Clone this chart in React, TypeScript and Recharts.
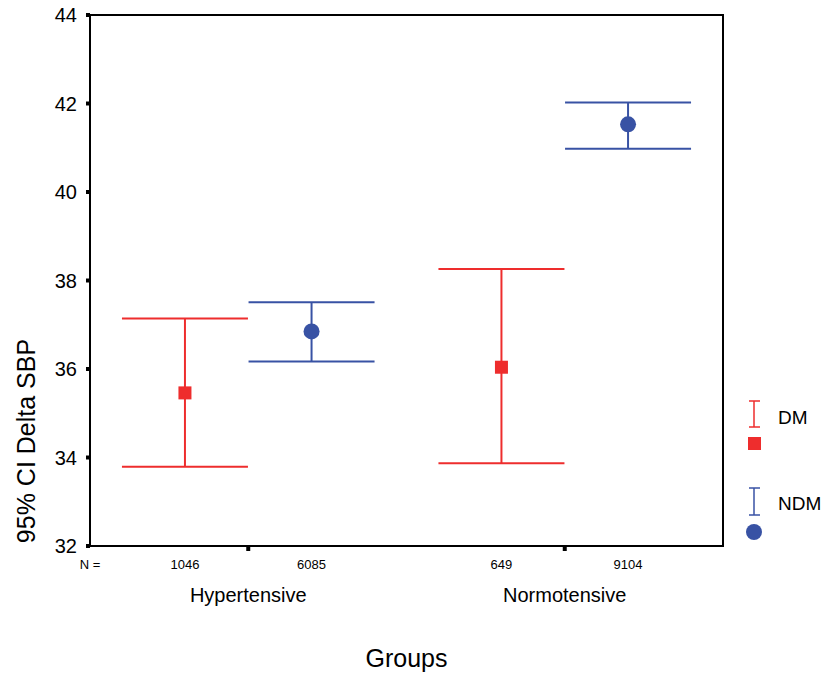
import React from "react";
import {
  ComposedChart,
  Scatter,
  ErrorBar,
  XAxis,
  YAxis,
  ReferenceArea,
  Customized,
} from "recharts";

// group positions on a 0..10 x scale, two series per group
const groups = ["Hypertensive", "Normotensive"];
const groupX = [2.5, 7.5];
const dmX = [1.5, 6.5];
const ndmX = [3.5, 8.5];

const dmN = ["1046", "649"];
const ndmN = ["6085", "9104"];

const dmMean = [35.46, 36.04];
const dmLow = [33.79, 33.87];
const dmHigh = [37.14, 38.26];

const ndmMean = [36.85, 41.53];
const ndmLow = [36.17, 40.98];
const ndmHigh = [37.51, 42.02];

const yTicks = [32, 34, 36, 38, 40, 42, 44];

const RED = "#ee2d2d";
const BLUE = "#3852a4";
const FONT = "'Liberation Sans', Arial, sans-serif";

const dmData = dmX.map((x, i) => ({
  x,
  y: dmMean[i],
  err: [dmMean[i] - dmLow[i], dmHigh[i] - dmMean[i]],
}));
const ndmData = ndmX.map((x, i) => ({
  x,
  y: ndmMean[i],
  err: [ndmMean[i] - ndmLow[i], ndmHigh[i] - ndmMean[i]],
}));

const nTicks = [0, ...dmX, ...ndmX].sort((a, b) => a - b);
const nLabel = (v: number) => {
  if (v === 0) return "N =";
  const di = dmX.indexOf(v);
  if (di >= 0) return dmN[di];
  const ni = ndmX.indexOf(v);
  return ni >= 0 ? ndmN[ni] : "";
};
const groupLabel = (v: number) => groups[groupX.indexOf(v)] ?? "";

const Square = (p: any) => (
  <rect x={p.cx - 6.5} y={p.cy - 6.5} width={13} height={13} fill={RED} />
);
const Dot = (p: any) => <circle cx={p.cx} cy={p.cy} r={8} fill={BLUE} />;
const Nothing = () => <g />;

const Overlay = () => (
  <g fontFamily={FONT}>
    <text
      x={26}
      y={441}
      transform="rotate(-90, 26, 441)"
      textAnchor="middle"
      dominantBaseline="central"
      fontSize={25}
      fill="#000"
    >
      95% CI Delta SBP
    </text>
    {/* legend */}
    <g stroke={RED} strokeWidth={1.5}>
      <line x1={754} y1={401} x2={754} y2={427} />
      <line x1={749} y1={401} x2={760} y2={401} />
      <line x1={749} y1={427} x2={760} y2={427} />
    </g>
    <rect x={748} y={437} width={13} height={13} fill={RED} />
    <text x={778} y={424} fontSize={19} fill="#000">DM</text>
    <g stroke={BLUE} strokeWidth={1.5}>
      <line x1={754} y1={488} x2={754} y2={515} />
      <line x1={749} y1={488} x2={760} y2={488} />
      <line x1={749} y1={515} x2={760} y2={515} />
    </g>
    <circle cx={754} cy={532} r={8} fill={BLUE} />
    <text x={778} y={510} fontSize={19} fill="#000">NDM</text>
  </g>
);

export default function App() {
  return (
    <div style={{ position: "absolute", left: 0, top: 0, fontFamily: FONT, background: "#fff" }}>
      <ComposedChart
        width={824}
        height={677}
        margin={{ top: 15, right: 101, bottom: 0, left: 30 }}
      >
        <XAxis
          xAxisId="a_main"
          type="number"
          dataKey="x"
          domain={[0, 10]}
          ticks={groupX}
          tickFormatter={() => ""}
          height={8}
          tickSize={5}
          axisLine={{ stroke: "#000", strokeWidth: 2 }}
          tickLine={{ stroke: "#000", strokeWidth: 4 }}
        />
        <XAxis
          xAxisId="b_n"
          type="number"
          dataKey="x"
          domain={[0, 10]}
          ticks={nTicks}
          tickFormatter={nLabel}
          interval={0}
          height={22}
          tickSize={0}
          tickMargin={6}
          axisLine={false}
          tickLine={false}
          fontSize={13}
          tick={{ fill: "#000", fontSize: 13 }}
        />
        <XAxis
          xAxisId="c_grp"
          type="number"
          dataKey="x"
          domain={[0, 10]}
          ticks={groupX}
          tickFormatter={groupLabel}
          interval={0}
          height={101}
          tickSize={0}
          tickMargin={12}
          axisLine={false}
          tickLine={false}
          fontSize={20}
          tick={{ fill: "#000", fontSize: 20 }}
          label={{ value: "Groups", position: "insideBottom", offset: 10, fill: "#000", fontSize: 25 }}
        />
        <YAxis
          type="number"
          domain={[32, 44]}
          ticks={yTicks}
          interval={0}
          width={60}
          tickSize={4}
          tickMargin={9}
          axisLine={{ stroke: "#000", strokeWidth: 2 }}
          tickLine={{ stroke: "#000", strokeWidth: 4 }}
          fontSize={20}
          tick={{ fill: "#000", fontSize: 20 }}
        />
        <ReferenceArea
          xAxisId="a_main"
          x1={0}
          x2={10}
          y1={32}
          y2={44}
          fill="none"
          stroke="#000"
          strokeWidth={2}
        />
        {/* invisible series so the label axes share the same scale */}
        <Scatter xAxisId="b_n" data={dmData} dataKey="y" shape={Nothing} isAnimationActive={false} />
        <Scatter xAxisId="c_grp" data={dmData} dataKey="y" shape={Nothing} isAnimationActive={false} />
        <Scatter xAxisId="a_main" data={dmData} dataKey="y" shape={Square} isAnimationActive={false}>
          <ErrorBar dataKey="err" direction="y" width={63} stroke={RED} strokeWidth={2} />
        </Scatter>
        <Scatter xAxisId="a_main" data={ndmData} dataKey="y" shape={Dot} isAnimationActive={false}>
          <ErrorBar dataKey="err" direction="y" width={63} stroke={BLUE} strokeWidth={2} />
        </Scatter>
        <Customized component={Overlay} />
      </ComposedChart>
    </div>
  );
}
